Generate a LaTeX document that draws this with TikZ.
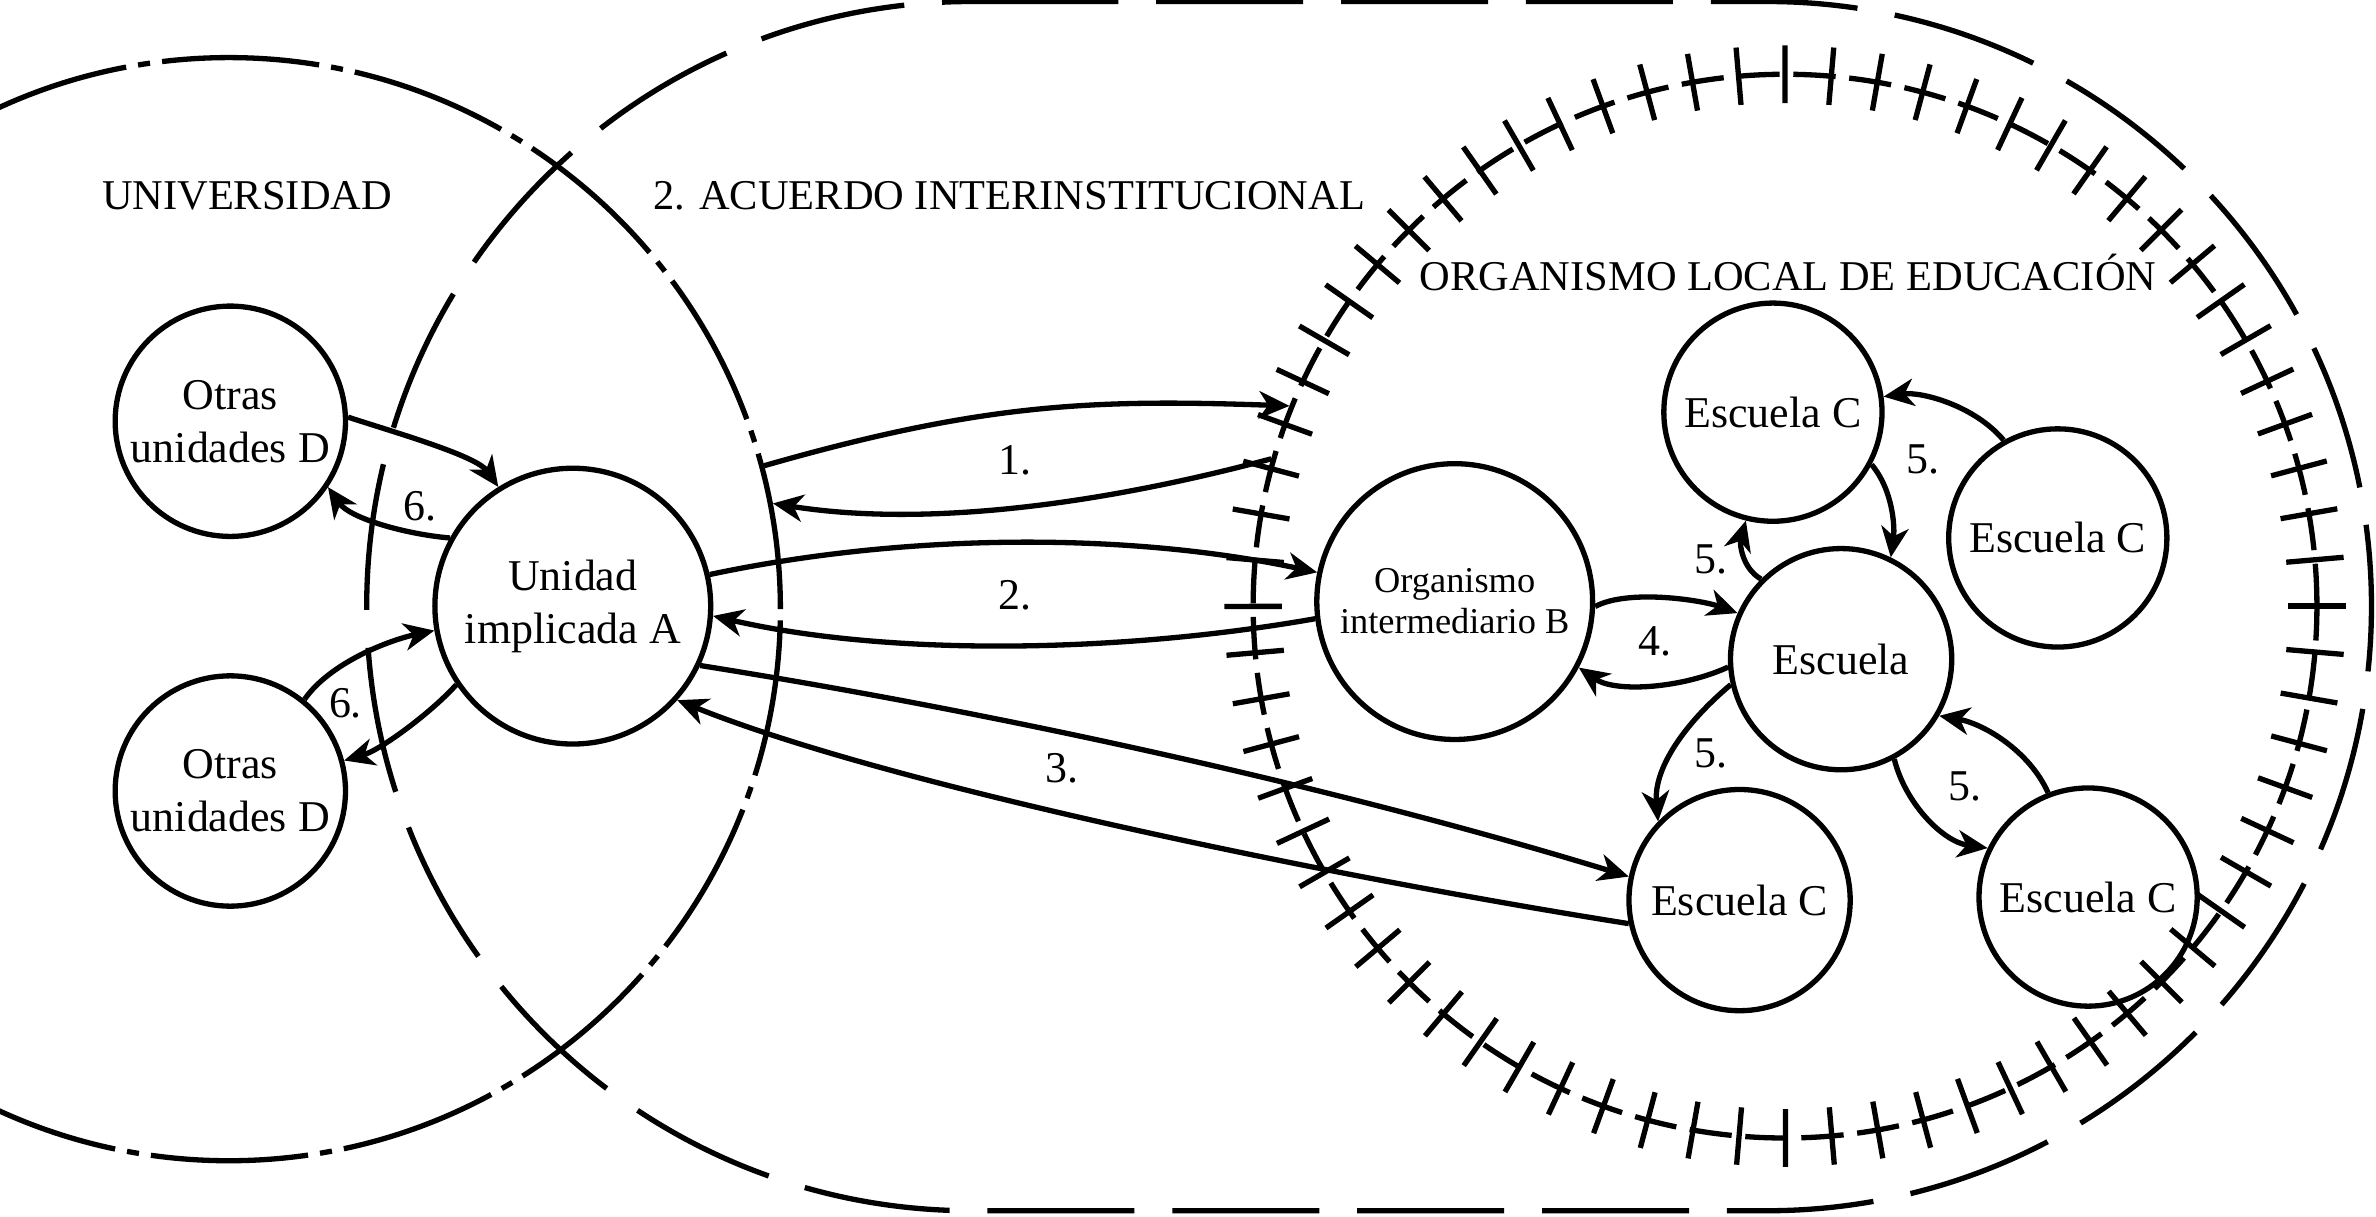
\documentclass[tikz,border=0pt]{standalone}
\usepackage{fontspec}
\setmainfont{Liberation Serif}
\usetikzlibrary{arrows.meta,decorations.markings}
\begin{document}
\begin{tikzpicture}[x=0.5pt,y=-0.5pt,
  lw/.style={line width=1.75pt},
  unit/.style={draw, circle, lw, inner sep=0pt, minimum size=#1, align=center,
    font=\fontsize{14.5}{17.5}\selectfont},
  arr/.style={lw, -{Stealth[length=10pt,width=9pt,inset=3pt]}},
  lbl/.style={font=\fontsize{14.5}{17}\selectfont, inner sep=0pt},
  titletext/.style={font=\fontsize{14}{17}\selectfont, inner sep=0pt, anchor=base},
  dashdot/.style={lw, dash pattern=on 52pt off 4pt on 4pt off 4pt},
  longdash/.style={lw, dash pattern=on 48.5pt off 12.5pt},
  ticked/.style={lw, dash pattern=on 14pt off 4.5pt,
    postaction={decorate, decoration={markings,
      mark=between positions 0 and 0.99 step 0.013889 with
        {\draw[lw, solid] (0pt,-9.5pt) -- (0pt,9.5pt);}}}},
]
\useasboundingbox (0,0) rectangle (1568,803);

% agreement (stadium)
\draw[longdash] (641,1) -- (1166,1) arc[start angle=-90, end angle=90, radius=399]
  -- (641,799) arc[start angle=90, end angle=270, radius=399] -- cycle;

% university
\node[circle, draw, dashdot, inner sep=0pt, minimum size=364pt] (U) at (151,402) {};
% local education body
\node[circle, draw, ticked, inner sep=0pt, minimum size=351pt] (OL) at (1178,400) {};

% titles
\node[titletext] (tu) at (163,138) {UNIVERSIDAD};
\node[titletext] (ta) at (666,138) {2. ACUERDO INTERINSTITUCIONAL};
\node[titletext] (to) at (1180,192) {ORGANISMO LOCAL DE EDUCACIÓN};

% units
\node[unit=76pt] (D1) at (152,278) {Otras\\unidades D};
\node[unit=76pt] (D2) at (152,522) {Otras\\unidades D};
\node[unit=91pt] (A) at (378,400) {Unidad\\implicada A};
\node[unit=91pt, font=\fontsize{12}{13.5}\selectfont] (B) at (960,397) {Organismo\\intermediario B};
\node[unit=73pt] (E) at (1215,435) {Escuela};
\node[unit=72pt] (C1) at (1170,272) {Escuela C};
\node[unit=72pt] (C2) at (1358,355) {Escuela C};
\node[unit=73pt] (C3) at (1148,594) {Escuela C};
\node[unit=72pt] (C4) at (1378,592) {Escuela C};

% arrows 1
\draw[arr] (U.15) .. controls +(16:75pt) and +(178:65pt) .. (OL.158);
\draw[arr] (OL.164) .. controls +(195:60pt) and +(-9:50pt) .. (U.11);
% arrows 2
\draw[arr] (A.13) .. controls +(12:65pt) and +(168:65pt) .. (B.168);
\draw[arr] (B.187) .. controls +(190:65pt) and +(-13:60pt) .. (A.-4);
% arrows 3
\draw[arr] (A.-25) .. controls +(-9:100pt) and +(163:100pt) .. (C3.168);
\draw[arr] (C3.192) .. controls +(171:100pt) and +(-22:75pt) .. (A.-42);
% arrows 6
\draw[arr] (D1.2) .. controls +(-18:17.5pt) and +(125:12.5pt) .. (A.122);
\draw[arr] (A.151) .. controls +(175:15pt) and +(-55:12.5pt) .. (D1.-34);
\draw[arr] (D2.51) .. controls +(55:15pt) and +(192:15pt) .. (A.190);
\draw[arr] (A.214) .. controls +(228:12.5pt) and +(16:12.5pt) .. (D2.15);
% arrows 4
\draw[arr] (B.-2) .. controls +(28:12.5pt) and +(160:12.5pt) .. (E.156);
\draw[arr] (E.184) .. controls +(205:16pt) and +(-35:15pt) .. (B.-28);
% arrows 5
\draw[arr] (E.135) .. controls +(150:7.5pt) and +(-106:7.5pt) .. (C1.-104);
\draw[arr] (C1.-28) .. controls +(-50:11pt) and +(82:10pt) .. (E.64);
\draw[arr] (C2.119) .. controls +(130:15pt) and +(8:12.5pt) .. (C1.8);
\draw[arr] (E.193) .. controls +(220:20pt) and +(95:17.5pt) .. (C3.136);
\draw[arr] (E.-62) .. controls +(-76:15pt) and +(172:15pt) .. (C4.154);
\draw[arr] (C4.111) .. controls +(114:15pt) and +(-10:15pt) .. (E.-30);

% labels
\node[lbl] (l1) at (670,304) {1.};
\node[lbl] (l2) at (670,393) {2.};
\node[lbl] (l3) at (701,507) {3.};
\node[lbl] (l4) at (1092,423) {4.};
\node[lbl] (l5a) at (1129,369) {5.};
\node[lbl] (l5b) at (1269,303) {5.};
\node[lbl] (l5c) at (1129,497) {5.};
\node[lbl] (l5d) at (1297,519) {5.};
\node[lbl] (l6a) at (277,334) {6.};
\node[lbl] (l6b) at (228,464) {6.};
\end{tikzpicture}
\end{document}
